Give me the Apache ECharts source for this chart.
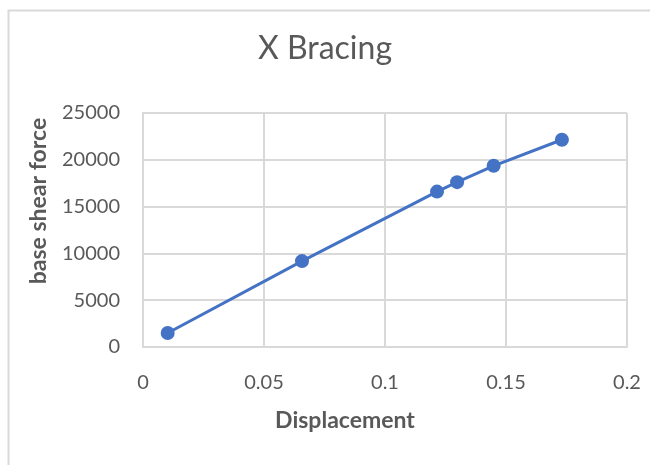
<!DOCTYPE html>
<html>
<head>
<meta charset="utf-8">
<title>X Bracing</title>
<script src="https://cdn.jsdelivr.net/npm/echarts@6/dist/echarts.min.js"></script>
<style>
  html, body { margin: 0; padding: 0; background: #ffffff; }
  #chart { width: 650px; height: 465px; }
</style>
</head>
<body>
<div id="chart"></div>
<script>
// Pushover results: roof displacement vs. base shear force
const displacement = [0.0102, 0.0657, 0.1215, 0.1298, 0.1449, 0.1731];
const baseShear = [1500, 9180, 16600, 17610, 19360, 22140];
const xTicks = [0, 0.05, 0.1, 0.15, 0.2];
const yTicks = [0, 5000, 10000, 15000, 20000, 25000];

const chartTitle = 'X Bracing';
const xName = 'Displacement';
const yName = 'base shear force';

const textColor = '#595959';
const gridColor = '#d9d9d9';
const lineColor = '#4472c4';
const fontFamily = 'Lato, "Open Sans", sans-serif';

const chart = echarts.init(document.getElementById('chart'));

const points = displacement.map((d, i) => [d, baseShear[i]]);

chart.setOption({
  backgroundColor: '#ffffff',
  animation: false,
  title: {
    text: chartTitle,
    left: 'center',
    top: 28,
    textStyle: { fontFamily, fontSize: 32, fontWeight: 'normal', color: textColor }
  },
  grid: { left: 143, right: 23, top: 113, bottom: 118, containLabel: false },
  xAxis: {
    type: 'value',
    min: xTicks[0],
    max: xTicks[xTicks.length - 1],
    interval: xTicks[1] - xTicks[0],
    axisLine: { show: true, lineStyle: { color: gridColor, width: 2 } },
    axisTick: { show: false },
    splitLine: { show: true, lineStyle: { color: gridColor, width: 2 } },
    axisLabel: {
      margin: 26,
      fontFamily, fontSize: 20, color: textColor,
      formatter: v => String(+v.toFixed(2))
    }
  },
  yAxis: {
    type: 'value',
    min: yTicks[0],
    max: yTicks[yTicks.length - 1],
    interval: yTicks[1] - yTicks[0],
    axisLine: { show: true, lineStyle: { color: gridColor, width: 2 } },
    axisTick: { show: false },
    splitLine: { show: true, lineStyle: { color: gridColor, width: 2 } },
    axisLabel: {
      margin: 23, fontFamily, fontSize: 20, color: textColor,
      formatter: v => String(Math.round(v))
    }
  },
  graphic: [
    {
      type: 'rect',
      silent: true,
      z: -1,
      shape: { x: 8.5, y: 10.5, width: 700, height: 500 },
      style: { fill: 'none', stroke: gridColor, lineWidth: 2 }
    },
    {
      type: 'text',
      x: 345, y: 421,
      style: {
        text: xName, fontFamily, fontSize: 23, fontWeight: 'bold',
        fill: textColor, align: 'center', verticalAlign: 'middle'
      }
    },
    {
      type: 'text',
      x: 39, y: 201,
      rotation: Math.PI / 2,
      style: {
        text: yName, fontFamily, fontSize: 23, fontWeight: 'bold',
        fill: textColor, align: 'center', verticalAlign: 'middle'
      }
    }
  ],
  series: [{
    type: 'line',
    data: points,
    symbol: 'circle',
    symbolSize: 14,
    lineStyle: { color: lineColor, width: 3 },
    itemStyle: { color: lineColor }
  }]
});
</script>
</body>
</html>
